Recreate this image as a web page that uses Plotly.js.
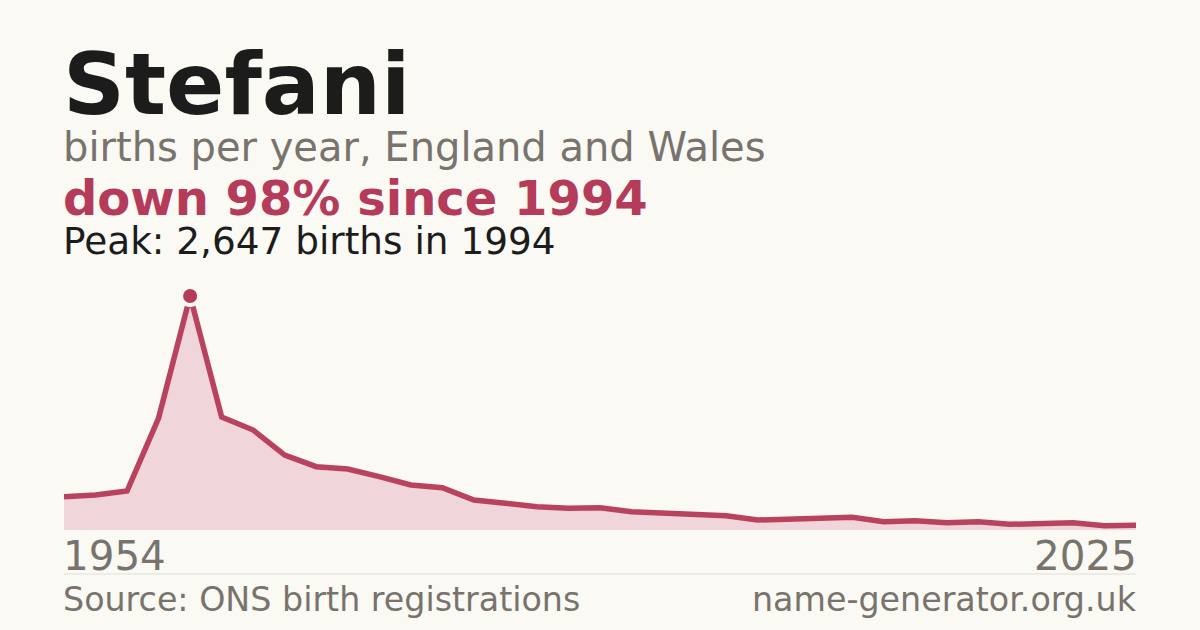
<!DOCTYPE html>
<html>
<head>
<meta charset="utf-8">
<script src="https://cdn.plot.ly/plotly-3.0.1.min.js"></script>
<style>
html,body{margin:0;padding:0;background:#faf9f4;}
#chart{width:1200px;height:630px;}
</style>
</head>
<body>
<div id="chart"></div>
<script>
// Data
const years = [1990,1991,1992,1993,1994,1995,1996,1997,1998,1999,2000,2001,2002,2003,2004,2005,2006,2007,2008,2009,2010,2011,2012,2013,2014,2015,2016,2017,2018,2019,2020,2021,2022,2023,2024];
const births = [377,396,441,1267,2647,1278,1131,848,716,690,603,509,479,339,302,264,245,252,207,196,177,162,113,124,130,143,94,105,83,94,64,71,83,49,55];
const tickLabels = ["1954","2025"];
const titleText = "Stefani";
const subtitleText = "births per year, England and Wales";
const changeText = "down 98% since 1994";
const peakText = "Peak: 2,647 births in 1994";
const sourceText = "Source: ONS birth registrations";
const siteText = "name-generator.org.uk";

const peakVal = Math.max(...births);
const peakYear = years[births.indexOf(peakVal)];

const W = 1200, H = 630;
const L = 64, R = 64, T = 296, B = 100;
const plotH = H - T - B;
function py(pix){ return (H - B - pix) / plotH; }

const FONT = "DejaVu Sans, sans-serif";
const grey = "#78736c";
const red = "#b53b5a";

const traces = [
  {
    x: years, y: births, type: "scatter", mode: "lines",
    line: {color: "#b9435f", width: 5.5, shape: "linear"},
    fill: "tozeroy", fillcolor: "#f0d5db",
    hoverinfo: "skip", cliponaxis: false
  },
  {
    x: [peakYear], y: [peakVal], type: "scatter", mode: "markers",
    marker: {color: red, size: 18, line: {color: "#faf9f4", width: 4}},
    hoverinfo: "skip", cliponaxis: false
  }
];

function ann(text, xp, ypix, size, color, bold, xanchor, xref){
  const xa = xanchor || "left";
  return {
    text: bold ? "<b>" + text + "</b>" : text,
    x: xp, y: py(ypix), xref: xref || "paper", yref: "paper",
    xanchor: xa, yanchor: "middle",
    xshift: xa === "left" ? -3 : 3,
    showarrow: false,
    font: {family: FONT, size: size, color: color}
  };
}

const layout = {
  width: W, height: H,
  paper_bgcolor: "#faf9f4", plot_bgcolor: "#faf9f4",
  margin: {l: L, r: R, t: T, b: B, pad: 0},
  showlegend: false,
  xaxis: {range: [years[0], years[years.length-1]], showgrid: false, zeroline: false, showticklabels: false, ticks: "", showline: false, fixedrange: true},
  yaxis: {range: [0, peakVal], showgrid: false, zeroline: false, showticklabels: false, ticks: "", showline: false, fixedrange: true},
  shapes: [
    {type: "line", xref: "paper", yref: "paper", x0: 0, x1: 1, y0: py(574), y1: py(574), line: {color: "#e2dfd8", width: 1}}
  ],
  annotations: [
    ann(titleText, 0, 84, 86, "#1c1c1c", true),
    ann(subtitleText, 0, 147, 40, grey, false),
    ann(changeText, 0, 198, 48, red, true),
    ann(peakText, 0, 241, 37.4, "#1c1c1c", false),
    ann(tickLabels[0], years[0], 556, 40.4, grey, false, "left", "x"),
    ann(tickLabels[1], years[years.length-1], 556, 40.4, grey, false, "right", "x"),
    ann(sourceText, 0, 599, 33.3, grey, false),
    ann(siteText, 1, 599, 33.3, grey, false, "right")
  ]
};

Plotly.newPlot("chart", traces, layout, {staticPlot: true, displayModeBar: false});
</script>
</body>
</html>
